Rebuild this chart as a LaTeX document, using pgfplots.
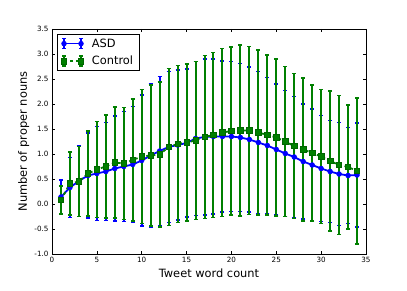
\documentclass[border=0pt]{standalone}
\usepackage{pgfplots}
\usepackage{pgfplotstable}
\pgfplotsset{compat=1.18}
\usepackage{fontspec}
\setmainfont{DejaVu Sans}
\definecolor{mplblue}{rgb}{0,0,1}
\definecolor{mplgreen}{rgb}{0,0.5,0}
\pgfplotstableread{
x asd asderr ctl ctlerr
1 0.14 0.34 0.08 0.28
2 0.33 0.60 0.41 0.63
3 0.46 0.71 0.45 0.70
4 0.57 0.85 0.61 0.85
5 0.61 0.94 0.69 0.96
6 0.65 0.98 0.75 1.03
7 0.71 1.05 0.83 1.11
8 0.75 1.10 0.81 1.12
9 0.79 1.16 0.88 1.22
10 0.87 1.31 0.95 1.34
11 0.97 1.44 0.97 1.41
12 1.06 1.49 0.99 1.45
13 1.14 1.51 1.14 1.57
14 1.18 1.50 1.20 1.57
15 1.22 1.48 1.23 1.57
16 1.31 1.54 1.27 1.58
17 1.34 1.56 1.34 1.63
18 1.35 1.55 1.38 1.65
19 1.35 1.51 1.43 1.68
20 1.35 1.50 1.46 1.68
21 1.33 1.48 1.47 1.71
22 1.29 1.45 1.47 1.68
23 1.23 1.42 1.43 1.65
24 1.17 1.36 1.38 1.60
25 1.09 1.31 1.33 1.57
26 1.01 1.26 1.25 1.50
27 0.94 1.21 1.16 1.45
28 0.85 1.15 1.09 1.43
29 0.78 1.12 1.02 1.36
30 0.71 1.06 0.95 1.34
31 0.65 1.02 0.86 1.40
32 0.60 1.03 0.78 1.39
33 0.57 0.96 0.74 1.24
34 0.58 1.04 0.66 1.46
}\data
\begin{document}
\begin{tikzpicture}
\path[use as bounding box] (-52pt,-37pt) rectangle (355pt,254pt);
\begin{axis}[
  at={(0pt,0pt)}, anchor=south west,
  scale only axis, width=314pt, height=225pt,
  xmin=0, xmax=35, ymin=-1, ymax=3.5,
  xtick={0,5,...,35},
  ytick={-1,-0.5,0,0.5,1,1.5,2,2.5,3,3.5},
  tick align=inside, major tick length=3pt,
  axis line style={line width=0.8pt},
  tick style={line width=0.6pt, black},
  /pgf/number format/assume math mode=true,
  ticklabel style={font=\fontsize{7.2}{8}\selectfont},
  yticklabel style={/pgf/number format/.cd, fixed, fixed zerofill, precision=1},
  xticklabel style={/pgf/number format/.cd, fixed, precision=0},
  xlabel={Tweet word count},
  ylabel={Number of proper nouns},
  label style={font=\fontsize{11.4}{13}\selectfont},
  xlabel style={at={(axis description cs:0.5,0)}, anchor=base, yshift=-24pt},
  ylabel style={at={(axis description cs:0,0.5)}, anchor=base, yshift=25pt},
  legend style={at={(axis description cs:0.015,0.979)}, anchor=north west,
    draw=black, line width=0.8pt, fill=white,
    font=\fontsize{11.4}{13}\selectfont, inner xsep=4pt, inner ysep=2.5pt, row sep=3.5pt,
    /tikz/every odd column/.append style={column sep=6pt}},
  legend cell align=left,
  legend image code/.code={
    \draw[#1, mark=none, solid]
      (0pt,-5pt) -- (0pt,5pt) (17pt,-5pt) -- (17pt,5pt)
      (-2pt,-5pt) -- (2pt,-5pt) (-2pt,5pt) -- (2pt,5pt)
      (15pt,-5pt) -- (19pt,-5pt) (15pt,5pt) -- (19pt,5pt);
    \draw[#1] plot coordinates {(0pt,0pt) (17pt,0pt)};
  },
]
\addplot[color=mplblue, line width=1.8pt, mark=*, mark size=2.4pt,
  mark options={solid, fill=mplblue, draw=mplblue, line width=0.6pt},
  error bars/.cd, y dir=both, y explicit,
  error bar style={line width=1.8pt, mplblue},
  error mark options={rotate=90, mark size=2pt, line width=1.8pt, mplblue}]
  table[x=x, y=asd, y error=asderr]{\data};
\addlegendentry{ASD}
\addplot[color=mplgreen, line width=1.8pt, dashed, mark=square*, mark size=2.7pt,
  mark options={solid, fill=mplgreen, draw=mplgreen!80!black, line width=0.6pt},
  error bars/.cd, y dir=both, y explicit,
  error bar style={line width=2pt, solid, mplgreen},
  error mark options={rotate=90, mark size=2pt, line width=1.8pt, solid, mplgreen}]
  table[x=x, y=ctl, y error=ctlerr]{\data};
\addlegendentry{Control}
\end{axis}
\end{tikzpicture}
\end{document}
